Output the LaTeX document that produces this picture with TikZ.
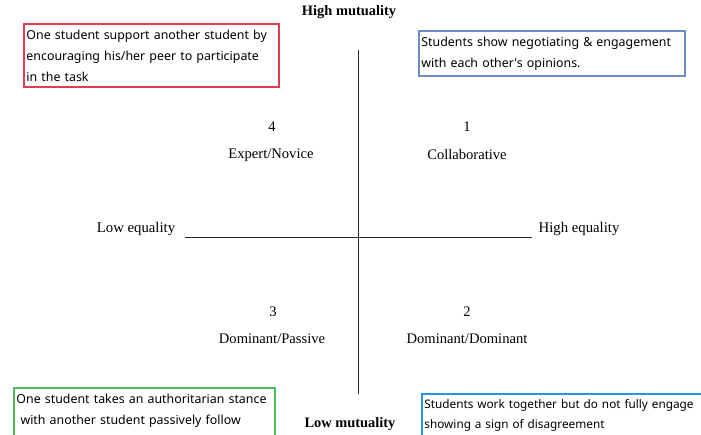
\documentclass[tikz,border=0pt]{standalone}
\usepackage{fontspec}
\setmainfont{Liberation Serif}
\newfontfamily\notefont{Noto Sans}
\newcommand\notesize{\fontsize{7.05}{12}\selectfont\hyphenpenalty10000\relax\exhyphenpenalty10000\relax}
\newcommand\notesmall{\fontsize{6.7}{11.4}\selectfont\hyphenpenalty10000\relax\exhyphenpenalty10000\relax}
\definecolor{notered}{RGB}{222,62,78}
\definecolor{noteblue}{RGB}{108,140,198}
\definecolor{notegreen}{RGB}{78,188,92}
\definecolor{notecyan}{RGB}{32,152,228}
\begin{document}
\begin{tikzpicture}[x=0.02cm,y=-0.02cm,
    axislabel/.style={font=\fontsize{8.4}{10}\selectfont},
    axistitle/.style={font=\fontsize{8.2}{10}\selectfont\bfseries},
    quadlabel/.style={font=\fontsize{8.3}{10}\selectfont},
    notebox/.style={draw,line width=0.9pt,rectangle,align=left,anchor=north west,
      inner xsep=1.5pt,font=\notefont\notesize}]

  \useasboundingbox (0,0) rectangle (701,434);
  \clip (0,0) rectangle (701,434);

  % axes
  \coordinate (vtop) at (358,50);
  \coordinate (vbot) at (358,394);
  \coordinate (hleft) at (185,237);
  \coordinate (hright) at (532,237);

  \node[axistitle] (hm) at (349,12) {High mutuality};
  \node[axistitle] (lm) at (350,424) {Low mutuality};
  \node[axislabel] (le) at (136,229) {Low equality};
  \node[axislabel] (he) at (579,229) {High equality};

  \draw[line width=0.5pt,black!85] (vtop) -- (vbot);
  \draw[line width=0.5pt,black!85] (hleft) -- (hright);

  % quadrants
  \node[quadlabel] (n4) at (272,127) {4};
  \node[quadlabel] (q4) at (271,155) {Expert/Novice};
  \node[quadlabel] (n1) at (467,127) {1};
  \node[quadlabel] (q1) at (467,155) {Collaborative};
  \node[quadlabel] (n3) at (273,312) {3};
  \node[quadlabel] (q3) at (272,339) {Dominant/Passive};
  \node[quadlabel] (n2) at (467,312) {2};
  \node[quadlabel] (q2) at (467,339) {Dominant/Dominant};

  % notes
  \node[notebox,draw=notered,text width=5.1cm-3pt,minimum height=1.2cm] (r4) at (23,23)
    {One student support another student by\\encouraging his/her peer to participate\\in the task};
  \node[notebox,draw=noteblue,text width=5.32cm-3pt,minimum height=0.84cm] (r1) at (418,30)
    {Students show negotiating \& engagement\\with each other's opinions.};
  \node[notebox,draw=notegreen,text width=5.22cm-3pt,minimum height=1.28cm] (r3) at (13,387)
    {One student takes an authoritarian stance\\ \ with another student passively follow\\ \mbox{}};
  \node[notebox,draw=notecyan,font=\notefont\notesmall,inner ysep=1.5pt,text width=6cm-3pt,minimum height=1.2cm] (r2) at (421,393)
    {Students work together but do not fully engage\\showing a sign of disagreement\\ \mbox{}};
\end{tikzpicture}
\end{document}
